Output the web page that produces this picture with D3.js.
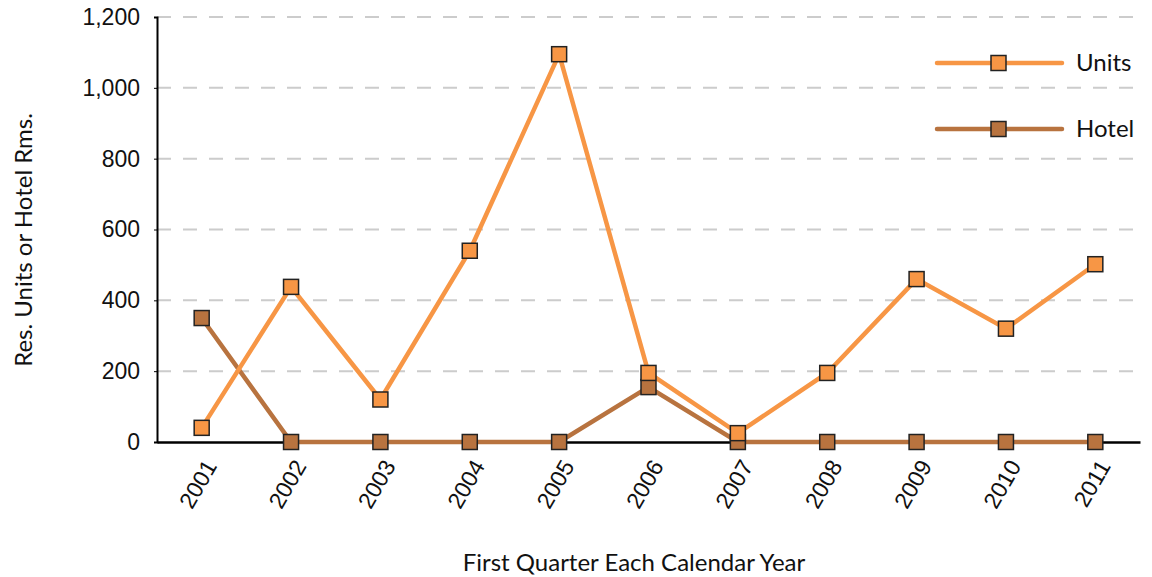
<!DOCTYPE html>
<html lang="en">
    <head>
        <meta charset="utf-8">
        <title>Units and Hotel</title>
        <style>
            body { margin: 0; background: white; }
            svg { font-family: Lato, "Open Sans", sans-serif; }
            .grid line { stroke: #cccccc; stroke-width: 2; stroke-dasharray: 14, 12; }
        </style>
    </head>
    <body>
        <svg width="1152" height="577"></svg>
        <script src="https://d3js.org/d3.v7.min.js"></script>
        <script>
            var years = ["2001", "2002", "2003", "2004", "2005", "2006", "2007", "2008", "2009", "2010", "2011"];
            var units = [40, 438, 120, 540, 1095, 195, 25, 195, 460, 320, 502];
            var hotel = [350, 0, 0, 0, 0, 155, 0, 0, 0, 0, 0];
            var yTicks = [0, 200, 400, 600, 800, 1000, 1200];

            var svg = d3.select("svg");
            var plot = {left: 157, right: 1140, top: 17, bottom: 442};

            var x = d3.scaleBand().domain(years).range([plot.left, plot.right]);
            var y = d3.scaleLinear().domain([0, 1200]).range([plot.bottom, plot.top]);

            // dashed grid
            svg.append("g").attr("class", "grid")
                .selectAll("line").data(yTicks.slice(1)).enter()
                .append("line")
                .attr("x1", plot.left).attr("x2", plot.right)
                .attr("y1", function(d) { return y(d); })
                .attr("y2", function(d) { return y(d); });

            // y axis
            var yAxis = svg.append("g")
                .attr("transform", "translate(" + plot.left + ",0)")
                .call(d3.axisLeft(y).tickValues(yTicks).tickSize(3).tickPadding(14).tickFormat(d3.format(",")));
            yAxis.select(".domain").attr("stroke", "#000").attr("stroke-width", 2);
            yAxis.selectAll(".tick line").attr("stroke", "#000");
            yAxis.selectAll("text").attr("font-size", 23).attr("fill", "#111");

            // x axis
            var xAxis = svg.append("g")
                .attr("transform", "translate(0," + plot.bottom + ")")
                .call(d3.axisBottom(x).tickSize(0).tickPadding(0));
            xAxis.select(".domain").attr("stroke", "#000").attr("stroke-width", 2.5);
            xAxis.selectAll("text")
                .attr("font-size", 23).attr("fill", "#111")
                .attr("text-anchor", "end")
                .attr("dy", 0)
                .attr("transform", "translate(16,24) rotate(-60)");

            // titles
            svg.append("text")
                .attr("transform", "translate(32,240) rotate(-90)")
                .attr("text-anchor", "middle")
                .attr("font-size", 24).attr("fill", "#111")
                .text("Res. Units or Hotel Rms.");
            svg.append("text")
                .attr("x", 634).attr("y", 571)
                .attr("text-anchor", "middle")
                .attr("font-size", 24).attr("fill", "#111")
                .text("First Quarter Each Calendar Year");

            var series = [
                {name: "Hotel", values: hotel, color: "#b8733f", ly: 129},
                {name: "Units", values: units, color: "#f79645", ly: 63}
            ];

            var line = d3.line()
                .x(function(d, i) { return x(years[i]) + x.bandwidth() / 2; })
                .y(function(d) { return y(d); });

            series.forEach(function(s) {
                svg.append("path")
                    .datum(s.values)
                    .attr("d", line)
                    .attr("fill", "none")
                    .attr("stroke", s.color)
                    .attr("stroke-width", 4.5);
                svg.append("g").selectAll("rect").data(s.values).enter()
                    .append("rect")
                    .attr("x", function(d, i) { return x(years[i]) + x.bandwidth() / 2 - 7.5; })
                    .attr("y", function(d) { return y(d) - 7.5; })
                    .attr("width", 15).attr("height", 15)
                    .attr("fill", s.color)
                    .attr("stroke", "#222").attr("stroke-width", 1.5);

                // legend
                var lg = svg.append("g");
                lg.append("line")
                    .attr("x1", 937).attr("x2", 1062)
                    .attr("y1", s.ly).attr("y2", s.ly)
                    .attr("stroke", s.color).attr("stroke-width", 4.5)
                    .attr("stroke-linecap", "round");
                lg.append("rect")
                    .attr("x", 991).attr("y", s.ly - 7.5)
                    .attr("width", 15).attr("height", 15)
                    .attr("fill", s.color)
                    .attr("stroke", "#222").attr("stroke-width", 1.5);
                lg.append("text")
                    .attr("x", 1076).attr("y", s.ly + 8)
                    .attr("font-size", 24).attr("fill", "#111")
                    .text(s.name);
            });
        </script>
    </body>
</html>
